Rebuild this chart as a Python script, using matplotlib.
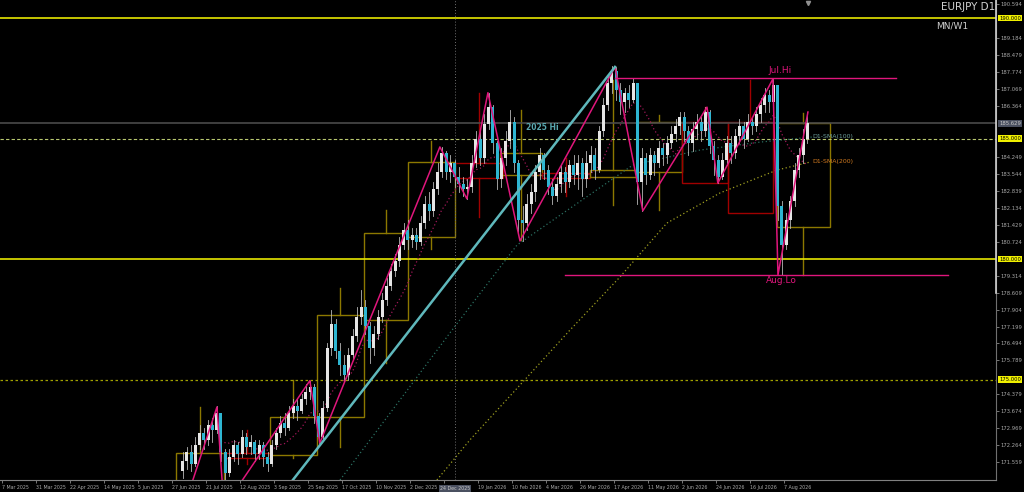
import matplotlib
matplotlib.use("Agg")
import matplotlib.pyplot as plt
from matplotlib.patches import Rectangle
import pandas as pd

# daily EURJPY, sampled every 2nd bar (day index from 7 Mar 2025)
first_day = 85
first_open = 171.2
closes = [171.6, 172.0, 171.5, 172.3, 172.8, 172.5, 173.1, 172.9, 173.6, 172.0,
          171.1, 171.8, 172.3, 171.9, 172.6, 172.2, 172.4, 171.9, 172.3, 171.8,
          171.5, 172.3, 172.8, 173.2, 173.0, 173.6, 173.9, 173.7, 174.2, 174.5,
          174.7, 173.5, 172.6, 173.8, 176.3, 177.3, 176.2, 175.6, 175.2, 176.0,
          176.8, 177.6, 178.0, 177.2, 176.3, 176.9, 177.6, 178.3, 178.9, 179.5,
          179.9, 180.6, 181.2, 180.8, 181.0, 180.7, 181.5, 182.3, 182.0, 182.9,
          183.6, 184.4, 183.6, 184.0, 183.4, 183.1, 182.9, 183.0, 184.0, 185.0,
          184.2, 185.6, 186.3, 184.8, 183.3, 184.2, 184.9, 185.7, 184.0, 181.6,
          181.5, 182.3, 182.8, 183.6, 184.3, 183.7, 183.0, 182.6, 183.1, 183.6,
          183.2, 183.9, 183.5, 184.0, 183.3, 184.0, 184.3, 183.7, 185.3, 186.4,
          187.3, 187.8, 187.0, 186.5, 186.9, 186.6, 187.3, 183.2, 184.2, 183.5,
          184.3, 184.0, 184.6, 184.3, 184.8, 185.2, 185.5, 185.9, 185.3, 184.8,
          185.4, 185.7, 185.3, 186.1, 184.7, 184.1, 183.4, 184.1, 184.8, 184.4,
          185.1, 185.5, 185.0, 185.7, 185.5, 186.0, 186.4, 186.8, 186.5, 187.2,
          182.2, 180.6, 181.6, 182.4, 183.7, 184.3, 185.0, 185.63]
highs = [172.0, 172.2, 172.3, 172.6, 173.1, 173.0, 173.3, 173.4, 173.9, 173.6,
         172.1, 172.1, 172.5, 172.4, 172.9, 172.8, 172.7, 172.5, 172.5, 172.4,
         172.0, 172.5, 173.0, 173.5, 173.6, 173.9, 174.2, 174.2, 174.4, 174.8,
         174.95, 174.8, 173.6, 174.1, 176.5, 177.9, 177.5, 176.5, 176.0, 176.3,
         177.1, 178.0, 178.7, 178.3, 177.4, 177.2, 177.9, 178.6, 179.2, 179.8,
         180.2, 180.9, 181.5, 181.6, 181.3, 181.3, 181.8, 182.6, 182.8, 183.2,
         184.0, 184.65, 184.5, 184.3, 184.1, 183.8, 183.4, 183.3, 184.3, 185.3,
         185.4, 186.0, 186.9, 186.4, 184.9, 184.6, 185.3, 186.2, 185.9, 184.1,
         182.2, 182.7, 183.1, 183.9, 184.6, 184.4, 183.9, 183.3, 183.4, 183.9,
         183.8, 184.1, 184.3, 184.3, 184.2, 184.5, 184.7, 184.6, 185.5, 186.7,
         187.6, 188.0, 187.97, 187.3, 187.1, 187.2, 187.5, 187.3, 184.6, 184.4,
         184.6, 184.5, 184.9, 184.8, 185.1, 185.5, 185.8, 186.1, 186.1, 185.5,
         185.7, 186.0, 185.9, 186.3, 186.2, 184.9, 184.3, 184.4, 185.1, 185.1,
         185.4, 185.8, 185.7, 186.0, 185.9, 186.3, 186.7, 187.1, 187.0, 187.47,
         187.2, 182.4, 181.9, 182.6, 184.0, 184.6, 185.4, 186.1]
lows = [170.9, 171.3, 171.2, 171.4, 172.1, 172.1, 172.3, 172.4, 172.8, 171.6,
        170.8, 171.0, 171.6, 171.5, 171.8, 171.9, 171.9, 171.6, 171.7, 171.4,
        171.2, 171.4, 172.1, 172.6, 172.7, 172.9, 173.4, 173.3, 173.6, 174.0,
        174.2, 173.2, 172.36, 172.5, 173.7, 176.0, 175.9, 175.2, 174.9, 175.0,
        175.8, 176.6, 177.3, 176.9, 175.7, 176.0, 176.7, 177.4, 178.1, 178.7,
        179.3, 179.7, 180.4, 180.4, 180.5, 180.4, 180.6, 181.3, 181.6, 181.8,
        182.7, 183.4, 183.3, 183.2, 183.0, 182.8, 182.6, 182.5, 182.8, 183.8,
        183.9, 184.0, 185.4, 184.4, 182.9, 183.0, 183.9, 184.6, 183.6, 181.1,
        180.75, 181.2, 181.9, 182.4, 183.3, 183.3, 182.7, 182.3, 182.4, 182.8,
        182.8, 183.0, 183.1, 182.9, 182.6, 183.0, 183.6, 183.3, 183.6, 185.1,
        186.2, 186.9, 186.6, 186.0, 186.1, 186.3, 186.5, 182.3, 182.0, 183.1,
        183.3, 183.5, 183.8, 183.9, 184.0, 184.6, 184.9, 185.2, 184.9, 184.3,
        184.5, 185.0, 184.9, 185.1, 184.4, 183.5, 183.15, 183.3, 183.9, 184.0,
        184.2, 184.8, 184.6, 184.9, 185.2, 185.3, 185.7, 186.1, 186.1, 186.3,
        181.6, 179.34, 180.4, 181.3, 182.2, 183.4, 184.0, 184.8]

date_labels = ["7 Mar 2025", "31 Mar 2025", "22 Apr 2025", "14 May 2025", "5 Jun 2025",
               "27 Jun 2025", "21 Jul 2025", "12 Aug 2025", "3 Sep 2025", "25 Sep 2025",
               "17 Oct 2025", "10 Nov 2025", "2 Dec 2025", "", "19 Jan 2026",
               "10 Feb 2026", "4 Mar 2026", "26 Mar 2026", "17 Apr 2026", "11 May 2026",
               "2 Jun 2026", "24 Jun 2026", "16 Jul 2026", "7 Aug 2026"]
label_step = 16

price_ticks = [190.594, 189.184, 188.479, 187.774, 187.069, 186.364, 184.249, 183.544,
               182.839, 182.134, 181.429, 180.724, 179.314, 178.609, 177.904, 177.199,
               176.494, 175.789, 174.379, 173.674, 172.969, 172.264, 171.559]

# zigzag pivots (day index, price)
zz_day = [87.5, 101.2, 104.5, 144.9, 149.6, 206.1, 218.8, 228.7, 243.8, 288.5,
          301.6, 331.8, 336.9, 362.8, 365.2, 379.3]
zz_price = [170.2, 173.86, 169.7, 174.95, 172.36, 184.65, 182.5, 186.9, 180.75, 187.97,
            182.0, 186.3, 183.15, 187.47, 179.34, 186.1]

trend_day = [136.9, 288.5]
trend_price = [170.83, 187.97]

sma100_day = [159.1, 187.3, 210.8, 242.4, 269.6, 296.9, 328.5, 356.7, 381.2]
sma100_val = [170.83, 174.15, 176.93, 180.58, 182.24, 183.90, 184.52, 184.85, 185.06]
sma200_day = [204.7, 220.2, 243.8, 267.3, 290.8, 312.9, 337.9, 364.7, 380.2]
sma200_val = [170.83, 172.49, 174.77, 177.05, 179.25, 181.49, 182.74, 183.69, 184.02]

# higher timeframe candles drawn as boxes
box_start = [81.9, 104.5, 126.1, 148.2, 170.4, 191.1, 213.2, 234.4, 254.1, 276.7, 298.8, 320.0, 341.6, 364.7]
box_end = [104.5, 126.1, 148.2, 170.4, 191.1, 213.2, 235.8, 254.1, 276.7, 298.8, 320.0, 341.6, 362.8, 389.6]
box_top = [171.95, 171.95, 173.44, 177.68, 181.08, 184.02, 183.98, 184.40, 183.57, 183.69, 185.68, 185.68, 185.68, 185.64]
box_bot = [169.5, 171.74, 171.87, 173.44, 177.47, 180.91, 183.36, 183.49, 183.36, 183.40, 183.61, 183.15, 181.91, 181.33]
box_hi = [173.86, 172.9, 174.98, 178.8, 182.03, 184.9, 186.89, 186.18, 184.2, 187.43, 185.98, 186.3, 187.43, 186.06]
box_lo = [169.5, 171.5, 171.74, 172.2, 175.68, 180.4, 181.74, 180.79, 182.6, 182.24, 182.03, 183.15, 181.91, 179.34]
box_bull = [True, False, True, True, True, True, False, True, False, True, True, False, False, True]

jul_hi = 187.5
aug_lo = 179.34
last_price = 185.629
level_lines = [190.0, 180.0]
half_level = 175.0
hi_2025 = 185.0
sep_day = 213.2

opens = [first_open] + closes[:-1]
days = [first_day + 2 * k for k in range(len(closes))]
sma20 = pd.Series(closes).rolling(10).mean()

fig = plt.figure(figsize=(10.24, 4.92), dpi=100, facecolor="black")
ax = fig.add_axes([0.0, 12 / 492, 996 / 1024, 480 / 492], facecolor="black")
ax.set_xlim(-0.9, 467.8)
ax.set_ylim(170.83, 190.747)

olive = "#8c7800"
darkred = "#a00000"
pink = "#e0167c"

for i in range(len(box_start)):
    c = olive if box_bull[i] else darkred
    ax.add_patch(Rectangle((box_start[i], box_bot[i]), box_end[i] - box_start[i],
                           box_top[i] - box_bot[i], fill=False, ec=c, lw=1.0, zorder=1))
    mid = (box_start[i] + box_end[i]) / 2
    ax.plot([mid, mid], [box_top[i], box_hi[i]], color=c, lw=1.0, zorder=1)
    ax.plot([mid, mid], [box_lo[i], box_bot[i]], color=c, lw=1.0, zorder=1)

for lv in level_lines:
    ax.axhline(lv, color="#e6e600", lw=1.2, zorder=2)
ax.axhline(half_level, color="#a0a000", lw=0.9, ls=(0, (2, 2)), zorder=2)
ax.axhline(last_price, color="#4a4a4a", lw=1.2, zorder=2)
ax.axhline(hi_2025, color="#b8c870", lw=0.8, ls=(0, (3, 2)), zorder=2)
ax.axvline(sep_day, color="#707070", lw=0.7, ls=(0, (1, 2)), zorder=2)

ax.plot(sma100_day, sma100_val, color="#2a6e60", lw=0.9, ls=(0, (1, 2)), zorder=2)
ax.plot(sma200_day, sma200_val, color="#a0a020", lw=0.9, ls=(0, (1, 2)), zorder=2)
ax.plot(days, sma20, color="#a01858", lw=0.9, ls=(0, (1, 2)), zorder=2)

for d, o, h, l, c in zip(days, opens, highs, lows, closes):
    col = "#e6e6e6" if c >= o else "#2eb6d2"
    ax.plot([d, d], [l, h], color="#b8b8b8", lw=0.6, zorder=3)
    ax.bar(d, max(abs(c - o), 0.03), bottom=min(o, c), width=1.4, color=col, lw=0, zorder=3)

ax.plot(zz_day, zz_price, color=pink, lw=1.1, zorder=4)
ax.plot(trend_day, trend_price, color="#5fb8bc", lw=1.8, zorder=4)
ax.plot([288.5, 420.7], [jul_hi, jul_hi], color=pink, lw=1.0, zorder=4)
ax.plot([265.0, 445.2], [aug_lo, aug_lo], color=pink, lw=1.0, zorder=4)

ax.text(366.0, jul_hi + 0.15, "Jul.Hi", color=pink, fontsize=6.5, ha="center", va="bottom")
ax.text(367.0, aug_lo - 0.05, "Aug.Lo", color=pink, fontsize=6.5, ha="center", va="top")
ax.text(254.5, hi_2025 + 0.25, "2025 Hi", color="#5aa8b0", fontsize=5.5,
        fontweight="bold", ha="center", va="bottom")
ax.text(381.5, 185.07, "D1-SMA(100)", color="#6a9a98", fontsize=4.5, ha="left", va="center")
ax.text(381.5, 184.05, "D1-SMA(200)", color="#d07a20", fontsize=4.5, ha="left", va="center")

ax.text(0.999, 0.995, "EURJPY D1", color="#d0d0d0", fontsize=7.5, ha="right", va="top",
        transform=ax.transAxes)
ax.text(0.94, 0.955, "MN/W1", color="#d0d0d0", fontsize=6.5, ha="left", va="top",
        transform=ax.transAxes)
ax.plot([379.3], [190.62], marker="v", color="#909090", ms=3, zorder=5)

for s in ["left", "top"]:
    ax.spines[s].set_visible(False)
ax.spines["right"].set_color("#707070")
ax.spines["bottom"].set_color("#808080")
# lighter upper part of the price scale edge
ax.plot([1.0, 1.0], [178.6, 190.747], transform=ax.get_yaxis_transform(),
        color="#d0d0d0", lw=1.2, clip_on=False, zorder=6)

ax.yaxis.tick_right()
ax.set_yticks(price_ticks)
ax.set_yticklabels([f"{p:.3f}" for p in price_ticks])
ax.tick_params(axis="y", colors="#a8a8a8", labelsize=3.8, length=2, width=0.5, pad=1)

ax.set_xticks([i * label_step for i in range(len(date_labels))])
ax.set_xticklabels(date_labels)
ax.tick_params(axis="x", colors="#a8a8a8", labelsize=3.4, length=2.5, width=0.5, pad=1)
for t in ax.get_xticklabels():
    t.set_ha("left")

ytr = ax.get_yaxis_transform()
for val, fc in [(190.0, "#f0f000"), (185.0, "#f0f000"), (180.0, "#f0f000"),
                (175.0, "#f0f000"), (last_price, "#4a5060")]:
    ax.text(1.003, val, f"{val:.3f}", transform=ytr, fontsize=3.8,
            color="black" if fc == "#f0f000" else "#c8c8c8", ha="left", va="center",
            bbox=dict(boxstyle="square,pad=0.15", fc=fc, ec="none"), clip_on=False)

xtr = ax.get_xaxis_transform()
ax.text(sep_day, -0.012, "24 Dec 2025", transform=xtr, fontsize=3.4, color="#c8c8c8",
        ha="center", va="top", bbox=dict(boxstyle="square,pad=0.2", fc="#4a5060", ec="none"),
        clip_on=False)

fig.savefig("out.png", dpi=100, facecolor="black")
